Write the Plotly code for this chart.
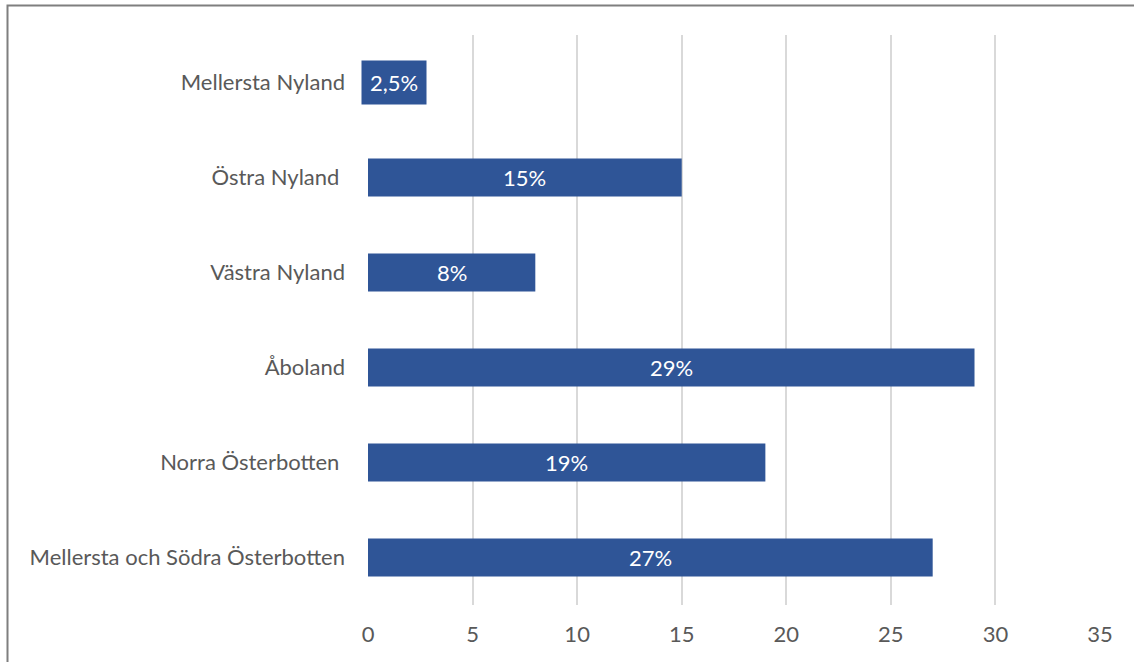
import plotly.graph_objects as go

categories = ["Mellersta Nyland", "Östra Nyland\u00a0", "Västra Nyland", "Åboland",
              "Norra Österbotten\u00a0", "Mellersta och Södra Österbotten"]
values = [2.5, 15, 8, 29, 19, 27]
labels = ["2,5%", "15%", "8%", "29%", "19%", "27%"]
x_ticks = [0, 5, 10, 15, 20, 25, 30, 35]

BAR = "#2F5597"
FONT = "Lato"
FS = 22

fig = go.Figure()
fig.add_trace(go.Bar(
    y=categories, x=values, orientation="h",
    marker=dict(color=BAR, line=dict(width=0)),
    width=0.4, hoverinfo="skip",
))

for i, (c, v, t) in enumerate(zip(categories, values, labels)):
    small = v < 5
    fig.add_annotation(x=v / 2, y=c, text=t, showarrow=False,
                       font=dict(family=FONT, size=FS, color="white"),
                       bgcolor=BAR if small else "rgba(0,0,0,0)",
                       borderpad=8 if small else 0,
                       xanchor="center", yanchor="middle")

L, R, T, B = 368, 34, 35, 57
W, H = 1134, 662
pw, ph = W - L - R, H - T - B
def px(x):
    return (x - L) / pw
def py(y):
    return (H - B - y) / ph

fig.add_shape(type="rect", xref="paper", yref="paper",
              x0=px(7.5), x1=px(1145), y0=py(675), y1=py(5.5),
              line=dict(color="#7F7F7F", width=2), fillcolor="rgba(0,0,0,0)", layer="above")

fig.update_layout(
    width=W, height=H,
    margin=dict(l=L, r=R, t=T, b=B),
    paper_bgcolor="white", plot_bgcolor="white",
    showlegend=False,
    font=dict(family=FONT, size=FS, color="#595959"),
    xaxis=dict(range=[0, 35], tickvals=x_ticks, showgrid=True, gridcolor="#D9D9D9",
               gridwidth=1.5, zeroline=False, showline=False, ticks="",
               ticklabelstandoff=14, tickfont=dict(size=FS, color="#595959")),
    yaxis=dict(categoryorder="array", categoryarray=categories[::-1],
               showgrid=False, zeroline=False, showline=False, ticks="",
               ticklabelstandoff=22, tickfont=dict(size=FS, color="#595959")),
)

fig.write_html("out.html")
